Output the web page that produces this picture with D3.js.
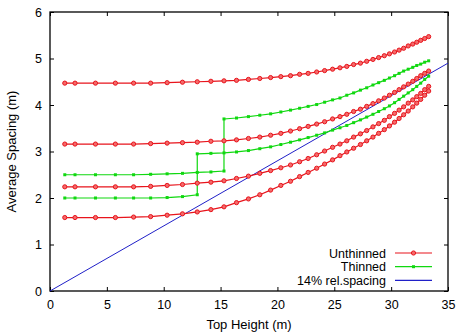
<!DOCTYPE html>
<html>
<head>
<meta charset="utf-8">
<script src="https://cdn.jsdelivr.net/npm/d3@7"></script>
<style>
  body { margin: 0; background: #fff; }
  text { font-family: "Liberation Sans", Arial, sans-serif; }
</style>
</head>
<body>
<div id="chart"></div>
<script>
// top height at each simulated age (shared by all curves)
const topHeight = [1.3, 2.2, 4.0, 5.75, 7.35, 8.85, 10.3, 11.65, 12.95, 14.15,
  15.3, 16.4, 17.45, 18.45, 19.4, 20.3, 21.15, 21.95, 22.7, 23.45,
  24.15, 24.85, 25.5, 26.1, 26.7, 27.3, 27.85, 28.4, 28.9, 29.4,
  29.85, 30.3, 30.7, 31.1, 31.5, 31.9, 32.25, 32.6, 32.95, 33.3];

// unthinned stands
const unthinned500 = [4.47, 4.47, 4.47, 4.47, 4.47, 4.47, 4.48, 4.49, 4.50, 4.51,
  4.52, 4.53, 4.55, 4.57, 4.59, 4.61, 4.63, 4.66, 4.68, 4.71,
  4.74, 4.77, 4.80, 4.83, 4.87, 4.90, 4.94, 4.98, 5.02, 5.06,
  5.10, 5.14, 5.18, 5.22, 5.27, 5.31, 5.35, 5.39, 5.43, 5.47];
const unthinned1000 = [3.16, 3.16, 3.16, 3.16, 3.16, 3.17, 3.18, 3.19, 3.20, 3.22,
  3.23, 3.25, 3.28, 3.31, 3.35, 3.39, 3.44, 3.49, 3.54, 3.59,
  3.64, 3.70, 3.75, 3.80, 3.86, 3.91, 3.97, 4.03, 4.09, 4.15,
  4.21, 4.27, 4.33, 4.39, 4.45, 4.51, 4.57, 4.63, 4.68, 4.73];
const unthinned2000 = [2.24, 2.24, 2.24, 2.24, 2.24, 2.25, 2.27, 2.29, 2.32, 2.34,
  2.37, 2.42, 2.47, 2.53, 2.59, 2.65, 2.71, 2.78, 2.85, 2.93,
  3.01, 3.09, 3.16, 3.23, 3.31, 3.38, 3.45, 3.53, 3.60, 3.67,
  3.75, 3.82, 3.89, 3.96, 4.04, 4.11, 4.18, 4.25, 4.33, 4.40];
const unthinned4000 = [1.58, 1.58, 1.58, 1.58, 1.59, 1.60, 1.63, 1.66, 1.70, 1.75,
  1.81, 1.90, 1.98, 2.07, 2.17, 2.27, 2.36, 2.46, 2.55, 2.64,
  2.73, 2.82, 2.91, 2.99, 3.07, 3.15, 3.23, 3.31, 3.39, 3.47,
  3.55, 3.63, 3.71, 3.79, 3.87, 3.96, 4.04, 4.12, 4.21, 4.30];

// thinned stands: the thinning age appears twice (before / after)
const thinAge2500 = 8;   // index into topHeight
const thinned2500 = [2.00, 2.00, 2.00, 2.00, 2.00, 2.00, 2.01, 2.03, 2.07, 2.95,
  2.96, 2.97, 2.99, 3.02, 3.06, 3.10, 3.15, 3.20, 3.25, 3.30,
  3.35, 3.40, 3.46, 3.51, 3.56, 3.62, 3.68, 3.74, 3.80, 3.86,
  3.92, 3.98, 4.05, 4.12, 4.19, 4.26, 4.33, 4.40, 4.47, 4.55, 4.62];
const thinAge1600 = 10;
const thinned1600 = [2.50, 2.50, 2.50, 2.50, 2.50, 2.51, 2.52, 2.53, 2.55, 2.56,
  2.58, 3.70, 3.72, 3.75, 3.78, 3.81, 3.85, 3.89, 3.93, 3.97,
  4.01, 4.06, 4.11, 4.15, 4.21, 4.26, 4.32, 4.37, 4.43, 4.48,
  4.53, 4.58, 4.63, 4.68, 4.73, 4.77, 4.81, 4.85, 4.88, 4.92, 4.95];

const relSpacing = 0.14;
const xTicks = [0, 5, 10, 15, 20, 25, 30, 35];
const yTicks = [0, 1, 2, 3, 4, 5, 6];
const legendLabels = ["Unthinned", "Thinned", "14% rel.spacing"];

const red = "#e8141c", green = "#10d810", blue = "#2020c8";
const fontSize = "12.5px";

// chart size
const margin = { top: 12, right: 10, bottom: 41, left: 50 };
const width = 458 - margin.left - margin.right;
const height = 332 - margin.top - margin.bottom;

const svg = d3.select("#chart")
  .append("svg")
  .attr("width", 458)
  .attr("height", 332)
  .append("g")
  .attr("transform", `translate(${margin.left}, ${margin.top})`);

const xScale = d3.scaleLinear().domain([0, 35]).range([0, width]);
const yScale = d3.scaleLinear().domain([0, 6]).range([height, 0]);

// axes (ticks inside, mirrored)
const fmt = d3.format("d");
const gx = svg.append("g").attr("transform", `translate(0, ${height})`)
  .call(d3.axisBottom(xScale).tickValues(xTicks).tickFormat(fmt).tickSize(-4).tickPadding(9));
const gy = svg.append("g")
  .call(d3.axisLeft(yScale).tickValues(yTicks).tickFormat(fmt).tickSize(-4).tickPadding(8));
const gx2 = svg.append("g")
  .call(d3.axisTop(xScale).tickValues(xTicks).tickFormat("").tickSize(-4));
const gy2 = svg.append("g").attr("transform", `translate(${width}, 0)`)
  .call(d3.axisRight(yScale).tickValues(yTicks).tickFormat("").tickSize(-4));

[gx, gy, gx2, gy2].forEach(g => {
  g.select(".domain").remove();
  g.selectAll("line").attr("stroke", "#000");
  g.selectAll("text").attr("font-size", fontSize).attr("fill", "#000")
    .style("font-family", "'Liberation Sans', Arial, sans-serif");
});

svg.append("rect")
  .attr("width", width).attr("height", height)
  .attr("fill", "none").attr("stroke", "#000").attr("stroke-width", 1.3);

// axis titles
svg.append("text")
  .attr("x", width / 2).attr("y", height + 38)
  .attr("text-anchor", "middle").attr("font-size", "13px")
  .text("Top Height (m)");
svg.append("text")
  .attr("transform", `translate(${-34}, ${height / 2}) rotate(-90)`)
  .attr("text-anchor", "middle").attr("font-size", "13px")
  .text("Average Spacing (m)");

// relative spacing line
svg.append("line")
  .attr("x1", xScale(0)).attr("y1", yScale(0))
  .attr("x2", xScale(35)).attr("y2", yScale(35 * relSpacing))
  .attr("stroke", blue).attr("stroke-width", 1);

const line = d3.line().x(d => xScale(d[0])).y(d => yScale(d[1]));

function withStep(values, idx) {
  const hs = topHeight.slice(0, idx + 1).concat(topHeight.slice(idx));
  return hs.map((h, i) => [h, values[i]]);
}

const thinnedSeries = [withStep(thinned2500, thinAge2500), withStep(thinned1600, thinAge1600)];
const unthinnedSeries = [unthinned500, unthinned1000, unthinned2000, unthinned4000]
  .map(v => topHeight.map((h, i) => [h, v[i]]));

thinnedSeries.forEach(s => {
  svg.append("path").datum(s).attr("d", line)
    .attr("fill", "none").attr("stroke", green).attr("stroke-width", 1.2);
  svg.append("g").selectAll("rect").data(s).enter().append("rect")
    .attr("x", d => xScale(d[0]) - 1.5).attr("y", d => yScale(d[1]) - 1.5)
    .attr("width", 3).attr("height", 3).attr("fill", green);
});

unthinnedSeries.forEach(s => {
  svg.append("path").datum(s).attr("d", line)
    .attr("fill", "none").attr("stroke", red).attr("stroke-width", 1.2);
  svg.append("g").selectAll("circle").data(s).enter().append("circle")
    .attr("cx", d => xScale(d[0])).attr("cy", d => yScale(d[1]))
    .attr("r", 2.1).attr("fill", "#f46a6a").attr("stroke", red).attr("stroke-width", 1);
});

// legend
const legend = svg.append("g").attr("transform", `translate(${336}, ${241})`);
const colors = [red, green, blue];
legendLabels.forEach((lab, i) => {
  const g = legend.append("g").attr("transform", `translate(0, ${i * 13.7})`);
  g.append("text").attr("x", 0).attr("y", 4.5).attr("text-anchor", "end")
    .attr("font-size", fontSize).text(lab);
  g.append("line").attr("x1", 9).attr("x2", 46).attr("y1", 0).attr("y2", 0)
    .attr("stroke", colors[i]).attr("stroke-width", 1.2);
  if (i === 0) {
    g.append("circle").attr("cx", 27.5).attr("cy", 0).attr("r", 2.1)
      .attr("fill", "#f46a6a").attr("stroke", red);
  } else if (i === 1) {
    g.append("rect").attr("x", 26).attr("y", -1.5).attr("width", 3).attr("height", 3)
      .attr("fill", green);
  }
});
</script>
</body>
</html>
